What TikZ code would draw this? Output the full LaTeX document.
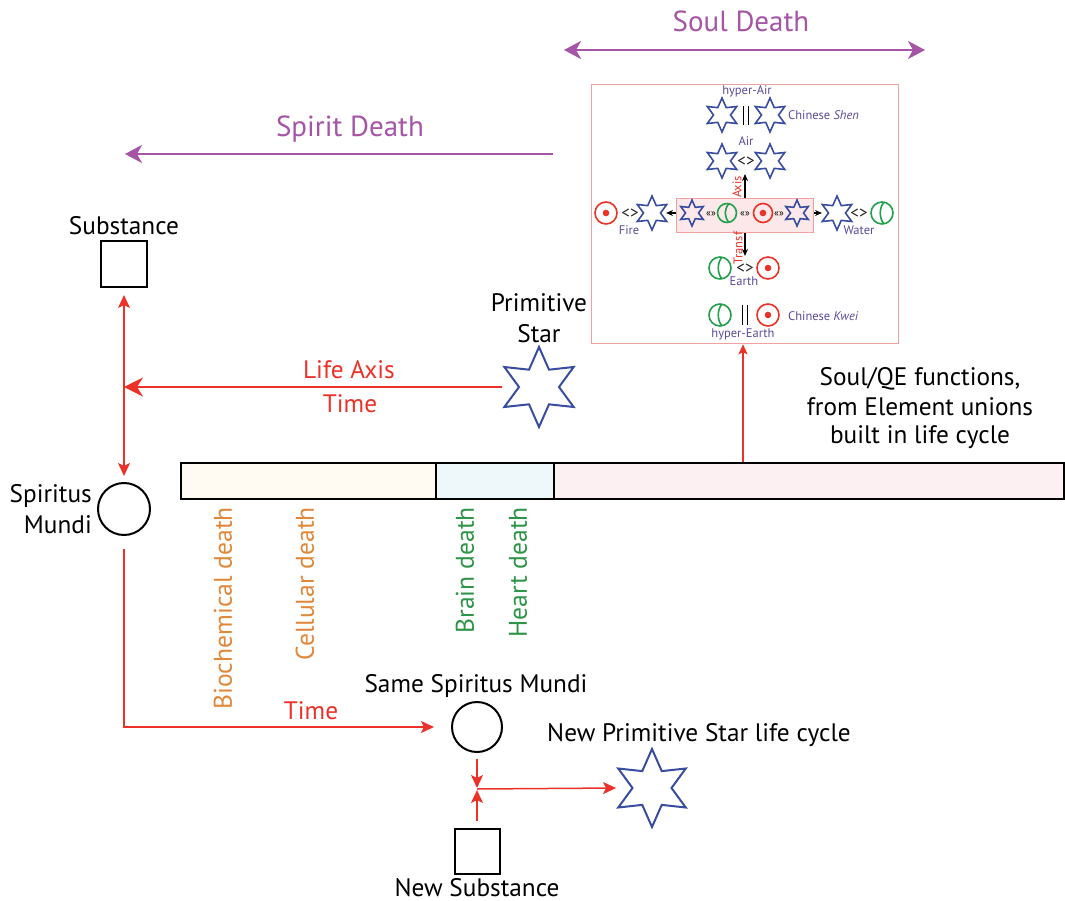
\documentclass[tikz,border=0pt]{standalone}
\usepackage{fontspec}
\setmainfont{PT Sans}
\usetikzlibrary{shapes.geometric,arrows.meta,calc}
\definecolor{lred}{RGB}{236,50,40}
\definecolor{lpurple}{RGB}{166,84,166}
\definecolor{sblue}{RGB}{56,76,160}
\definecolor{vtext}{RGB}{90,74,156}
\definecolor{egreen}{RGB}{34,160,75}
\definecolor{orng}{RGB}{224,136,58}
\definecolor{dgreen}{RGB}{46,148,71}
\definecolor{bpink}{RGB}{245,160,160}
\definecolor{cream}{RGB}{255,251,243}
\definecolor{lblue}{RGB}{238,248,251}
\definecolor{lpink}{RGB}{253,240,242}
\definecolor{ipink}{RGB}{252,232,232}
\newcommand\fmain{\fontsize{25.3}{30}\selectfont}
\newcommand\fvert{\fontsize{25.6}{30}\selectfont}
\newcommand\fbig{\fontsize{29}{34}\selectfont}
\newcommand\fsm{\fontsize{12.5}{14}\selectfont}
\newcommand\fxs{\fontsize{10}{12}\selectfont}
\tikzset{
  lbl/.style={inner sep=0pt, anchor=base, font=\fmain},
  bigstar/.style={star, star points=6, star point ratio=2, minimum size=#1, inner sep=0pt, draw=sblue, line width=2pt},
  smstar/.style={star, star points=6, star point ratio=2, minimum size=#1, inner sep=0pt, draw=sblue, line width=1.6pt},
  sqbox/.style={draw, line width=2pt, minimum size=#1, inner sep=0pt},
  circ/.style={circle, draw, line width=2pt, minimum size=#1, inner sep=0pt},
  barseg/.style={draw, line width=2pt, minimum height=36pt, inner sep=0pt, anchor=north west},
  redarr/.style={draw=lred, line width=1.5pt, -{Stealth[length=13pt,width=12pt,inset=3pt]}},
  redarrbig/.style={draw=lred, line width=1.8pt, -{Stealth[length=19pt,width=19pt,inset=6pt]}},
  purarr/.style={draw=lpurple, line width=2.5pt, -{Stealth[length=17pt,width=18pt,inset=5pt]}},
  blkarr/.style={draw=black, line width=1.2pt, -{Stealth[length=7pt,width=6pt]}},
  tgt/.style={circle, draw=lred, line width=1.6pt, minimum size=#1, inner sep=0pt,
    path picture={\fill[lred] (path picture bounding box.center) circle (3.3pt);}},
  grn/.style={circle, draw=egreen, line width=1.6pt, minimum size=#1, inner sep=0pt,
    path picture={\draw[egreen, line width=1.6pt] ([xshift=2pt]path picture bounding box.north) .. controls ([xshift=-3pt,yshift=-6pt]path picture bounding box.north) and ([xshift=-3pt,yshift=6pt]path picture bounding box.south) .. ([xshift=2pt]path picture bounding box.south);}},
  vt/.style={inner sep=0pt, anchor=base, font=\fsm, text=vtext},
  sym/.style={inner sep=0pt, font=\fontsize{17}{18}\selectfont, text=black!85},
  gsym/.style={inner sep=0pt, font=\fxs},
  vlab/.style={inner sep=0pt, anchor=east, rotate=90, font=\fvert},
}
\begin{document}
\begin{tikzpicture}[x=1pt,y=-1pt]
\useasboundingbox (0,0) rectangle (1065,901);

% ---- top purple arrows
\coordinate (sdR) at (553,154);
\coordinate (sdL) at (125,154);
\draw[purarr] (sdR) -- (sdL);
\node[lbl, font=\fbig, text=lpurple] (spiritdeath) at (350,137) {Spirit Death};
\coordinate (soL) at (564,50);
\coordinate (soR) at (925,50);
\draw[purarr, {Stealth[length=17pt,width=18pt,inset=5pt]}-{Stealth[length=17pt,width=18pt,inset=5pt]}] (soL) -- (soR);
\node[lbl, font=\fbig, text=lpurple] (souldeath) at (741,32) {Soul Death};

% ---- left column
\node[sqbox=46pt] (subst) at (124,264) {};
\node[lbl] (substlbl) at (124,235) {Substance};
\node[circ=52pt] (sm) at (124,509) {};
\node[lbl, anchor=base east] (sml1) at (92,502) {Spiritus};
\node[lbl, anchor=base east] (sml2) at (92,533) {Mundi};
\coordinate (lifejn) at (124,387);
\draw[draw=lred, line width=1.5pt, {Stealth[length=13pt,width=12pt,inset=3pt]}-{Stealth[length=13pt,width=12pt,inset=3pt]}, shorten <=7pt, shorten >=6pt] (subst.south) -- (sm.north);

% ---- primitive star and life axis
\node[bigstar=80pt] (pstar) at (539,387) {};
\node[lbl] (pstarl1) at (539,311) {Primitive};
\node[lbl] (pstarl2) at (539,342) {Star};
\draw[redarrbig] ($(pstar.outer point 2)!0.5!(pstar.outer point 3)$) -- (lifejn);
\node[lbl, text=lred] (lifeaxis) at (349,378) {Life Axis};
\node[lbl, text=lred] (time1) at (350,412) {Time};

% ---- bar
\node[barseg, fill=cream, minimum width=255pt] (bar1) at (180,462) {};
\node[barseg, fill=lblue, minimum width=118pt] (bar2) at (435,462) {};
\node[barseg, fill=lpink, minimum width=510pt] (bar3) at (553,462) {};

\node[vlab, text=orng] (biochem) at (223,507) {Biochemical death};
\node[vlab, text=orng] (cellular) at (305,507) {Cellular death};
\node[vlab, text=dgreen] (brain) at (465,507) {Brain death};
\node[vlab, text=dgreen] (heart) at (518,507) {Heart death};

\node[lbl] (soulqe1) at (920,385) {Soul/QE functions,};
\node[lbl] (soulqe2) at (920,415) {from Element unions};
\node[lbl] (soulqe3) at (920,443) {built in life cycle};

% ---- QE box
\node[draw=bpink, line width=1.3pt, minimum width=307pt, minimum height=259pt, inner sep=0pt, anchor=north west] (qebox) at (591,84) {};
\coordinate (barpt) at (743,462);
\draw[draw=lred, line width=1.3pt, -{Stealth[length=10pt,width=9pt,inset=2pt]}] (barpt) -- (barpt |- qebox.south);

% row 1: hyper-Air
\node[vt] (hyperair) at (747,95) {hyper-Air};
\node[smstar=34pt] (ha1) at (722,115) {};
\node[smstar=34pt] (ha2) at (770,115) {};
\draw[line width=1.3pt] (743.5,106) -- (743.5,125) (748.5,106) -- (748.5,125);
\node[vt, anchor=base west] (shen) at (788,120) {Chinese \textit{Shen}};

% row 2: Air
\node[vt] (airlbl) at (746,146) {Air};
\node[smstar=34pt] (a1) at (722,161) {};
\node[smstar=34pt] (a2) at (770,161) {};
\node[sym] (alt) at (746,162) {<>};

% inner box
\node[draw=bpink, fill=ipink, line width=1.2pt, minimum width=137pt, minimum height=34pt, inner sep=0pt, anchor=north west] (inner) at (676,198) {};
\coordinate (axtop) at (745,174);
\draw[blkarr] (inner.north -| axtop) -- (axtop);
\node[inner sep=0pt, rotate=90, font=\fsm, text=lred] (axislbl) at (737,187) {Axis};
\coordinate (trbot) at (745,256);
\draw[blkarr] (inner.south -| trbot) -- (trbot);
\node[inner sep=0pt, rotate=90, font=\fsm, text=lred] (transflbl) at (738,248) {Transf};

\node[smstar=26pt] (i1) at (692,213) {};
\node[gsym] (q1) at (711,214) {«»};
\node[grn=19pt] (i2) at (727,213) {};
\node[gsym] (q2) at (745,214) {«»};
\node[tgt=19pt] (i3) at (763,213) {};
\node[gsym] (q3) at (779,214) {«»};
\node[smstar=26pt] (i4) at (797,213) {};

% row 3 left: Fire
\node[tgt=22pt] (firet) at (606,213) {};
\node[sym] (firelt) at (630,214) {<>};
\node[smstar=34pt] (fires) at (652,213) {};
\node[vt] (firelbl) at (629,235) {Fire};
\coordinate (lefttip) at (666,213);
\draw[blkarr] (inner.west |- lefttip) -- (lefttip);

% row 3 right: Water
\coordinate (righttip) at (822,213);
\draw[blkarr] (inner.east |- righttip) -- (righttip);
\node[smstar=34pt] (waters) at (837,213) {};
\node[sym] (waterlt) at (859,214) {<>};
\node[grn=22pt] (waterg) at (882,213) {};
\node[vt] (waterlbl) at (859,235) {Water};

% row 4: Earth
\node[grn=22pt] (eg) at (720,268) {};
\node[sym] (elt) at (745,269) {<>};
\node[tgt=22pt] (et) at (768,268) {};
\node[vt] (earthlbl) at (744,286) {Earth};

% row 5: hyper-Earth
\node[grn=22pt] (heg) at (720,315) {};
\draw[line width=1.3pt] (742.5,305) -- (742.5,325) (747.5,305) -- (747.5,325);
\node[tgt=22pt] (het) at (768,315) {};
\node[vt, anchor=base west] (kwei) at (788,320) {Chinese \textit{Kwei}};
\node[vt] (hyperearth) at (743,337) {hyper-Earth};

% ---- bottom
\node[circ=50pt] (ssm) at (477,727) {};
\node[lbl] (ssmlbl) at (476,692) {Same Spiritus Mundi};
\draw[redarr, shorten <=13pt, shorten >=17pt] (sm.south) |- (ssm.west);
\node[lbl, text=lred] (time2) at (311,719) {Time};
\coordinate (jn) at (477,789);
\draw[redarr, shorten <=6pt, shorten >=1pt] (ssm.south) -- (jn);
\node[sqbox=45pt] (nsub) at (477,851) {};
\draw[redarr, shorten <=7pt, shorten >=1pt] (nsub.north) -- (jn);
\node[lbl] (nsublbl) at (477,896) {New Substance};
\node[bigstar=78pt] (nstar) at (652,788) {};
\draw[redarr] (jn) -- ($(nstar.outer point 2)!0.5!(nstar.outer point 3)$);
\node[lbl] (nstarlbl) at (699,741) {New Primitive Star life cycle};
\end{tikzpicture}
\end{document}
